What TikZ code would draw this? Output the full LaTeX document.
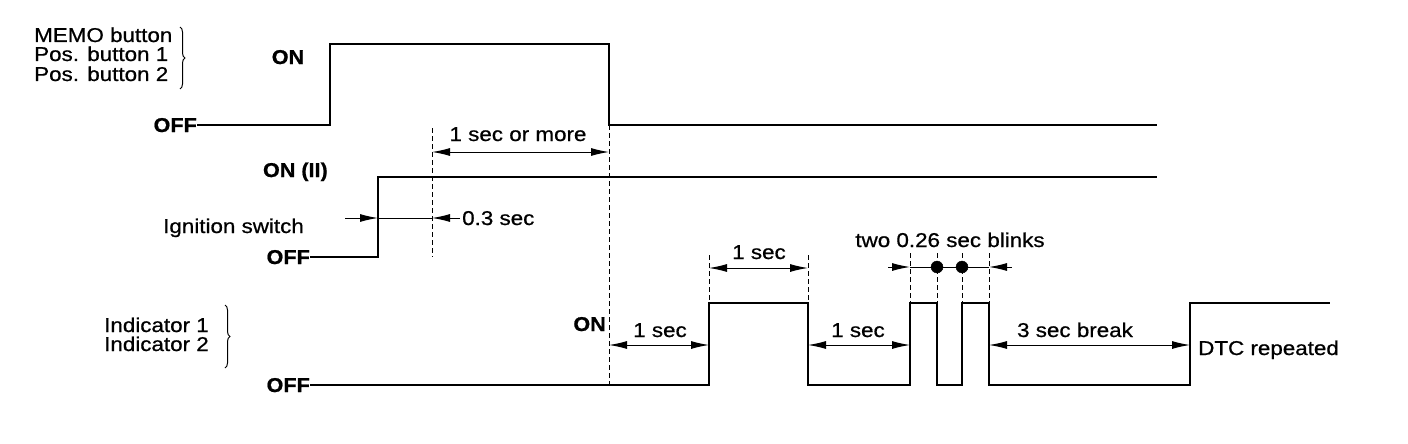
\documentclass[tikz,border=0pt]{standalone}
\usepackage{fontspec}
\setmainfont{Liberation Sans}[FakeStretch=1.12]
\newfontfamily\medfont{Liberation Sans}[FakeStretch=1.12, FakeBold=0.7]
\newfontfamily\blackfont{Liberation Sans Bold}[FakeStretch=1.08, FakeBold=0.8]
\usetikzlibrary{arrows.meta}
\usetikzlibrary{positioning}
\usetikzlibrary{decorations.pathreplacing}

\tikzset{
  signal/.style={line width=2.8pt, line join=miter},
  dimline/.style={line width=1pt},
  guide/.style={line width=0.9pt, dash pattern=on 5pt off 3pt},
  tip/.style={-{Latex[length=18pt,width=8pt]}},
  pit/.style={{Latex[length=18pt,width=8pt]}-},
  bothtip/.style={{Latex[length=18pt,width=8pt]}-{Latex[length=18pt,width=8pt]}},
  txt/.style={inner sep=0pt, font=\fontsize{20}{22}\medfont},
  lvl/.style={inner sep=0pt, font=\fontsize{20}{22}\blackfont},
  curly/.style={decorate, decoration={brace, amplitude=5pt}, line width=1pt},
}

\begin{document}
\begin{tikzpicture}[x=1pt,y=-1pt]
	\useasboundingbox (0,0) rectangle (1408,444);
	% labels
	\node[txt, anchor=base west] (memo) at (34,42) {MEMO button};
	\node[txt, anchor=base west] (pos1) at (34,61) {Pos. button 1};
	\node[txt, anchor=base west] (pos2) at (34,81) {Pos. button 2};
	\node[txt, anchor=base west] (ign) at (163,233) {Ignition switch};
	\node[txt, anchor=base west] (ind1) at (104,332) {Indicator 1};
	\node[txt, anchor=base west] (ind2) at (104,351) {Indicator 2};
	\draw[curly] (180,27) -- (180,89);
	\draw[curly] (225,305) -- (225,368);
	% levels
	\node[lvl, anchor=base] (on1) at (288,64) {ON};
	\node[lvl, anchor=base east] (off1) at (197,132) {OFF};
	\node[lvl, anchor=base east] (on2) at (328,177) {ON (II)};
	\node[lvl, anchor=base east] (off2) at (310,264) {OFF};
	\node[lvl, anchor=base east] (on3) at (606,331) {ON};
	\node[lvl, anchor=base east] (off3) at (310,392) {OFF};
	% waveforms
	\draw[signal] (off1.east |- 0,125) -- (330,125) -- (330,44) -- (609,44) -- (609,125) -- (1157,125);
	\draw[signal] (off2.east |- 0,257) -- (378,257) -- (378,177) -- (1157,177);
	\draw[signal] (off3.east |- 0,385) -- (709,385) -- (709,303) -- (808,303) -- (808,385)
		-- (910,385) -- (910,303) -- (937,303) -- (937,385)
		-- (962,385) -- (962,303) -- (989,303) -- (989,385)
		-- (1190,385) -- (1190,303) -- (1330,303);
	% guides
	\draw[guide] (432,128) -- (432,257);
	\draw[guide] (609,125) -- (609,385);
	\foreach \x in {709,808}
	{
		\draw[guide] (\x,255) -- (\x,303);
	}
	\foreach \x in {910,937,962,989}
	{
		\draw[guide] (\x,253) -- (\x,303);
	}
	% timing marks
	\coordinate (a1) at (432,152);
	\coordinate (a2) at (609,152);
	\draw[dimline, bothtip] (a1) -- (a2);
	\node[txt, anchor=base] (more) at (518,141) {1 sec or more};

	\coordinate (b0) at (345,218);
	\coordinate (b1) at (378,218);
	\coordinate (b2) at (432,218);
	\coordinate (b3) at (460,218);
	\draw[dimline, tip] (b0) -- (b1);
	\draw[dimline] (b1) -- (b2);
	\draw[dimline, pit] (b2) -- (b3);
	\node[txt, anchor=base west] (short) at (462,225) {0.3 sec};

	\coordinate (c1) at (609,345);
	\coordinate (c2) at (709,345);
	\coordinate (c3) at (808,345);
	\coordinate (c4) at (910,345);
	\coordinate (c5) at (989,345);
	\coordinate (c6) at (1190,345);
	\draw[dimline, bothtip] (c1) -- (c2);
	\draw[dimline, bothtip] (c3) -- (c4);
	\draw[dimline, bothtip] (c5) -- (c6);
	\node[txt, anchor=base] (wait1) at (660,337) {1 sec};
	\node[txt, anchor=base] (wait2) at (858,337) {1 sec};
	\node[txt, anchor=base] (brk) at (1075,337) {3 sec break};
	\node[txt, anchor=base west] (dtc) at (1198,355) {DTC repeated};

	\coordinate (d1) at (709,268);
	\coordinate (d2) at (808,268);
	\draw[dimline, bothtip] (d1) -- (d2);
	\node[txt, anchor=base] (lit) at (759,259) {1 sec};

	\coordinate (e0) at (888,267);
	\coordinate (e1) at (910,267);
	\coordinate (e4) at (989,267);
	\coordinate (e5) at (1012,267);
	\draw[dimline, tip] (e0) -- (e1);
	\draw[dimline] (e1) -- (e4);
	\draw[dimline, pit] (e4) -- (e5);
	\filldraw (937,267) circle (6pt);
	\filldraw (962,267) circle (6pt);
	\node[txt, anchor=base] (blink) at (950,247) {two 0.26 sec blinks};
\end{tikzpicture}
\end{document}
